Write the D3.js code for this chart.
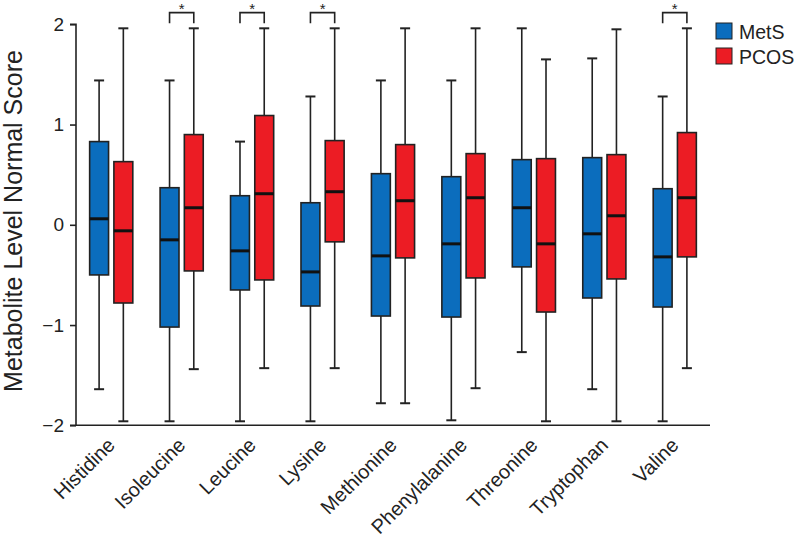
<!DOCTYPE html>
<html>
<head>
<meta charset="utf-8">
<script src="https://cdn.jsdelivr.net/npm/d3@7"></script>
<style>
  html, body { margin: 0; padding: 0; background: #fff; }
  svg { display: block; font-family: Arial, "Liberation Sans", Helvetica, sans-serif; }
</style>
</head>
<body>
<svg id="chart" width="800" height="540"></svg>
<script>
// ---- data ----
const categories = ["Histidine","Isoleucine","Leucine","Lysine","Methionine","Phenylalanine","Threonine","Tryptophan","Valine"];
const seriesNames = ["MetS","PCOS"];
const seriesColors = ["#0b6dbd","#ec1c24"];

const metsMin = [-1.64,-1.96,-1.96,-1.96,-1.78,-1.95,-1.27,-1.64,-1.96];
const metsQ1  = [-0.50,-1.02,-0.65,-0.81,-0.91,-0.92,-0.42,-0.73,-0.82];
const metsMed = [ 0.06,-0.15,-0.26,-0.47,-0.31,-0.19, 0.17,-0.09,-0.32];
const metsQ3  = [ 0.83, 0.37, 0.29, 0.22, 0.51, 0.48, 0.65, 0.67, 0.36];
const metsMax = [ 1.44, 1.44, 0.83, 1.28, 1.44, 1.44, 1.96, 1.66, 1.28];

const pcosMin = [-1.96,-1.44,-1.43,-1.43,-1.78,-1.63,-1.96,-1.96,-1.43];
const pcosQ1  = [-0.78,-0.46,-0.55,-0.17,-0.33,-0.53,-0.87,-0.54,-0.32];
const pcosMed = [-0.06, 0.17, 0.31, 0.33, 0.24, 0.27,-0.19, 0.09, 0.27];
const pcosQ3  = [ 0.63, 0.90, 1.09, 0.84, 0.80, 0.71, 0.66, 0.70, 0.92];
const pcosMax = [ 1.96, 1.96, 1.96, 1.96, 1.96, 1.96, 1.65, 1.95, 1.96];

const significant = ["Isoleucine","Leucine","Lysine","Valine"];
const yTicks = [-2,-1,0,1,2];
const yTitle = "Metabolite Level Normal Score";

// ---- build rows ----
const series = [
  {name: seriesNames[0], color: seriesColors[0], min: metsMin, q1: metsQ1, med: metsMed, q3: metsQ3, max: metsMax},
  {name: seriesNames[1], color: seriesColors[1], min: pcosMin, q1: pcosQ1, med: pcosMed, q3: pcosQ3, max: pcosMax}
];
const boxes = [];
categories.forEach((c, i) => {
  series.forEach((s, j) => {
    boxes.push({cat: c, s: j, color: s.color, min: s.min[i], q1: s.q1[i], med: s.med[i], q3: s.q3[i], max: s.max[i]});
  });
});

// ---- layout ----
const svg = d3.select("#chart");
const pLeft = 76, pRight = 710, pTop = 24.3, pBottom = 425.3;

const x = d3.scaleBand().domain(categories).range([pLeft, pRight]).padding(0);
const sub = d3.scaleBand().domain([0,1]).range([-24, 24]).paddingInner(0.22).paddingOuter(0.1);
const y = d3.scaleLinear().domain([-2, 2]).range([pBottom, pTop]);
const boxW = sub.bandwidth();
const capW = 10;

const cx = d => x(d.cat) + x.bandwidth()/2 + sub(d.s) + boxW/2;

// y axis
const yAxis = d3.axisLeft(y).tickValues(yTicks).tickSize(6).tickPadding(6).tickFormat(d3.format("d"));
const yg = svg.append("g").attr("transform", `translate(${pLeft},0)`).call(yAxis);
yg.select(".domain").attr("stroke", "#222").attr("stroke-width", 1.6).attr("d", `M-6,${y(2)}H0V${y(-2)}H-6`);
yg.selectAll(".tick line").attr("stroke", "#222").attr("stroke-width", 1.6);
yg.selectAll(".tick text").attr("font-size", 19).attr("fill", "#222").attr("font-family", "Arial, 'Liberation Sans', sans-serif");

// x axis line
svg.append("line").attr("x1", pLeft).attr("x2", pRight).attr("y1", y(-2)).attr("y2", y(-2))
  .attr("stroke", "#222").attr("stroke-width", 1.6);

// x labels
svg.append("g").selectAll("text").data(categories).join("text")
  .attr("transform", d => `translate(${x(d) + x.bandwidth()/2 + 5},${y(-2) + 21}) rotate(-45)`)
  .attr("text-anchor", "end")
  .attr("font-size", 20)
  .attr("fill", "#222")
  .text(d => d);

// y title
svg.append("text")
  .attr("transform", `translate(21.5,221) rotate(-90)`)
  .attr("text-anchor", "middle")
  .attr("font-size", 25)
  .attr("fill", "#222")
  .text(yTitle);

// boxes
const g = svg.append("g");
const bx = g.selectAll("g.box").data(boxes).join("g").attr("class", "box");
bx.append("line")
  .attr("x1", cx).attr("x2", cx)
  .attr("y1", d => y(d.max)).attr("y2", d => y(d.min))
  .attr("stroke", "#222").attr("stroke-width", 1.6);
bx.append("line")
  .attr("x1", d => cx(d) - capW/2).attr("x2", d => cx(d) + capW/2)
  .attr("y1", d => y(d.max)).attr("y2", d => y(d.max))
  .attr("stroke", "#222").attr("stroke-width", 2);
bx.append("line")
  .attr("x1", d => cx(d) - capW/2).attr("x2", d => cx(d) + capW/2)
  .attr("y1", d => y(d.min)).attr("y2", d => y(d.min))
  .attr("stroke", "#222").attr("stroke-width", 2);
bx.append("rect")
  .attr("x", d => cx(d) - boxW/2).attr("width", boxW)
  .attr("y", d => y(d.q3)).attr("height", d => y(d.q1) - y(d.q3))
  .attr("fill", d => d.color).attr("stroke", "#222").attr("stroke-width", 1.6);
bx.append("line")
  .attr("x1", d => cx(d) - boxW/2).attr("x2", d => cx(d) + boxW/2)
  .attr("y1", d => y(d.med)).attr("y2", d => y(d.med))
  .attr("stroke", "#111").attr("stroke-width", 3);

// significance brackets
const sg = svg.append("g").selectAll("g").data(significant).join("g");
const bxL = c => x(c) + x.bandwidth()/2 + sub(0) + boxW/2;
const bxR = c => x(c) + x.bandwidth()/2 + sub(1) + boxW/2;
sg.append("path")
  .attr("d", c => `M${bxL(c)},${y(2.01)}V${y(2.116)}H${bxR(c)}V${y(2.01)}`)
  .attr("fill", "none").attr("stroke", "#222").attr("stroke-width", 1.6);
sg.append("text")
  .attr("x", c => (bxL(c) + bxR(c))/2)
  .attr("y", 13.6)
  .attr("text-anchor", "middle")
  .attr("font-size", 15)
  .attr("fill", "#222")
  .text("*");

// legend
const lg = svg.append("g").attr("transform", "translate(716,23)");
const li = lg.selectAll("g").data(series).join("g").attr("transform", (d, i) => `translate(0,${i * 25})`);
li.append("rect").attr("width", 16).attr("height", 16)
  .attr("fill", d => d.color).attr("stroke", "#222").attr("stroke-width", 1);
li.append("text").attr("x", 23).attr("y", 15.5)
  .attr("font-size", 19.5).attr("fill", "#222").text(d => d.name);
</script>
</body>
</html>
